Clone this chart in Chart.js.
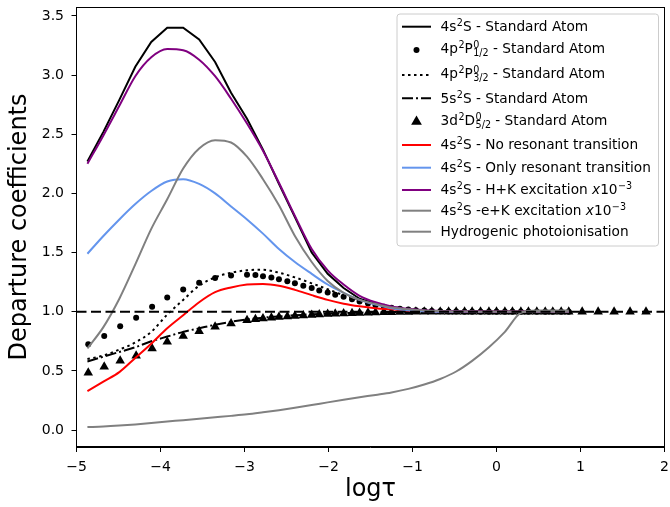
<!DOCTYPE html>
<html>
<head>
<meta charset="utf-8">
<script src="https://cdn.jsdelivr.net/npm/chart.js@4/dist/chart.umd.min.js"></script>
<style>
  html, body { margin: 0; padding: 0; background: #fff; }
  #wrap { width: 670px; height: 507px; }
</style>
</head>
<body>
<div id="wrap"><canvas id="departure" width="670" height="507"></canvas></div>
<script>
// log tau grid used by the curves
const lineTau = [-4.87, -4.68, -4.49, -4.30, -4.11, -3.92, -3.73, -3.54, -3.35, -3.16,
  -2.97, -2.78, -2.59, -2.40, -2.20, -2.01, -1.82, -1.63, -1.44, -1.25, -1.05,
  -0.86, -0.67, -0.48, -0.29, -0.09, 0.10, 0.29, 0.48, 0.67, 0.86];

// log tau grid of the marker series (model depth points)
const markerTau = [-4.86, -4.67, -4.48, -4.29, -4.10, -3.92, -3.73, -3.54, -3.35, -3.16,
  -2.97, -2.87, -2.78, -2.68, -2.59, -2.49, -2.40, -2.30, -2.20, -2.11, -2.01,
  -1.92, -1.82, -1.72, -1.63, -1.53, -1.44, -1.34, -1.25, -1.15, -1.05, -0.96,
  -0.86, -0.77, -0.67, -0.57, -0.48, -0.38, -0.29, -0.19, -0.09, 0.00, 0.10,
  0.19, 0.29, 0.38, 0.48, 0.58, 0.67, 0.77, 0.86];
const triTailTau = [1.02, 1.21, 1.40, 1.59, 1.78];

// Standard atom
const std4s = [2.27, 2.52, 2.79, 3.07, 3.28, 3.40, 3.40, 3.30, 3.11, 2.85,
  2.63, 2.37, 2.08, 1.80, 1.50, 1.32, 1.20, 1.11, 1.065, 1.035, 1.017,
  1.008, 1.004, 1.002, 1.001, 1.0, 1.0, 1.0, 1.0, 1.0, 1.0];
const std4p12 = [0.726, 0.794, 0.878, 0.949, 1.042, 1.121, 1.188, 1.244, 1.286, 1.306,
  1.312, 1.310, 1.300, 1.290, 1.275, 1.258, 1.241, 1.220, 1.200, 1.180, 1.163,
  1.143, 1.126, 1.106, 1.087, 1.070, 1.055, 1.043, 1.033, 1.025, 1.018, 1.013,
  1.010, 1.007, 1.005, 1.003, 1.002, 1.0, 1.0, 1.0, 1.0, 1.0, 1.0,
  1.0, 1.0, 1.0, 1.0, 1.0, 1.0, 1.0, 1.0];
const std4p32 = [0.60, 0.63, 0.68, 0.74, 0.83, 0.975, 1.10, 1.22, 1.29, 1.33,
  1.35, 1.355, 1.33, 1.29, 1.24, 1.19, 1.14, 1.10, 1.065, 1.04, 1.02,
  1.01, 1.005, 1.002, 1.0, 1.0, 1.0, 1.0, 1.0, 1.0, 1.0];
const std5s = [0.58, 0.62, 0.66, 0.70, 0.75, 0.79, 0.83, 0.86, 0.89, 0.915,
  0.935, 0.95, 0.96, 0.97, 0.978, 0.984, 0.988, 0.992, 0.995, 0.997, 0.998,
  0.999, 1.0, 1.0, 1.0, 1.0, 1.0, 1.0, 1.0, 1.0, 1.0];
const std3d52 = [0.484, 0.535, 0.585, 0.628, 0.690, 0.746, 0.794, 0.836, 0.873, 0.901,
  0.929, 0.936, 0.943, 0.949, 0.955, 0.960, 0.965, 0.969, 0.973, 0.977, 0.980,
  0.983, 0.986, 0.988, 0.990, 0.992, 0.994, 0.995, 0.996, 0.997, 0.998, 0.999,
  1.0, 1.0, 1.0, 1.0, 1.0, 1.0, 1.0, 1.0, 1.0, 1.0, 1.0,
  1.0, 1.0, 1.0, 1.0, 1.0, 1.0, 1.0, 1.0,
  1.0, 1.0, 1.0, 1.0, 1.0];

// 4s2S variants
const noResonant = [0.33, 0.41, 0.49, 0.61, 0.73, 0.86, 0.97, 1.08, 1.165, 1.205,
  1.23, 1.235, 1.22, 1.185, 1.14, 1.10, 1.068, 1.046, 1.03, 1.02, 1.01,
  1.005, 1.002, 1.0, 1.0, 1.0, 1.0, 1.0, 1.0, 1.0, 1.0];
const onlyResonant = [1.49, 1.64, 1.78, 1.91, 2.02, 2.10, 2.12, 2.08, 2.00, 1.89,
  1.78, 1.66, 1.53, 1.42, 1.32, 1.23, 1.16, 1.10, 1.06, 1.03, 1.012,
  1.004, 1.0, 1.0, 1.0, 1.0, 1.0, 1.0, 1.0, 1.0, 1.0];
const hkExcitation = [2.25, 2.49, 2.74, 2.99, 3.15, 3.22, 3.21, 3.13, 2.99, 2.80,
  2.59, 2.36, 2.09, 1.81, 1.53, 1.35, 1.23, 1.135, 1.08, 1.045, 1.025,
  1.013, 1.007, 1.004, 1.002, 1.0, 1.0, 1.0, 1.0, 1.0, 1.0];
const ekExcitation = [0.69, 0.87, 1.11, 1.40, 1.70, 1.95, 2.21, 2.38, 2.45, 2.43,
  2.31, 2.12, 1.90, 1.64, 1.42, 1.26, 1.16, 1.10, 1.065, 1.035, 1.02,
  1.01, 1.005, 1.002, 1.001, 1.0, 1.0, 1.0, 1.0, 1.0, 1.0];
const hydrogenic = [0.025, 0.03, 0.038, 0.048, 0.06, 0.072, 0.084, 0.096, 0.108, 0.12,
  0.133, 0.15, 0.168, 0.188, 0.211, 0.234, 0.256, 0.277, 0.297, 0.318, 0.348,
  0.385, 0.432, 0.495, 0.585, 0.70, 0.83, 0.99, 1.01, 1.01, 1.01];

const refLevel = 1;
const xTicks = [-5, -4, -3, -2, -1, 0, 1, 2];
const yTicks = [0, 0.5, 1, 1.5, 2, 2.5, 3, 3.5];

function pts(xs, ys) {
  return ys.map((y, i) => ({ x: xs[i], y: y }));
}

const FONT = '"DejaVu Sans"';
const DOTTED = [2.5, 3.5];
const DASHDOT = [11, 3, 2, 3];

function lineSet(label, xs, ys, color, dash, smooth) {
  return {
    label: label,
    data: pts(xs, ys),
    showLine: true,
    borderColor: color,
    backgroundColor: color,
    borderWidth: 2,
    borderDash: dash || [],
    pointRadius: 0,
    cubicInterpolationMode: smooth ? 'monotone' : 'default',
    tension: 0
  };
}

const datasets = [
  lineSet('4s2S - Standard Atom', lineTau, std4s, '#000000', [], false),
  {
    label: '4p2P0 1/2 - Standard Atom',
    data: pts(markerTau, std4p12),
    showLine: false,
    pointStyle: 'circle',
    pointRadius: 3,
    pointBorderWidth: 0,
    backgroundColor: '#000000',
    borderColor: '#000000'
  },
  lineSet('4p2P0 3/2 - Standard Atom', lineTau, std4p32, '#000000', DOTTED, true),
  lineSet('5s2S - Standard Atom', lineTau, std5s, '#000000', DASHDOT, true),
  {
    label: '3d2D0 5/2 - Standard Atom',
    data: pts(markerTau.concat(triTailTau), std3d52),
    showLine: false,
    pointStyle: 'triangle',
    pointRadius: 5.5,
    pointBorderWidth: 0,
    backgroundColor: '#000000',
    borderColor: '#000000'
  },
  lineSet('4s2S - No resonant transition', lineTau, noResonant, '#ff0000', [], true),
  lineSet('4s2S - Only resonant transition', lineTau, onlyResonant, '#6495ed', [], true),
  lineSet('4s2S - H+K excitation', lineTau, hkExcitation, '#800080', [], true),
  lineSet('4s2S -e+K excitation', lineTau, ekExcitation, '#808080', [], true),
  lineSet('Hydrogenic photoionisation', lineTau, hydrogenic, '#808080', [], true),
  lineSet('reference', [xTicks[0], xTicks[xTicks.length - 1]], [refLevel, refLevel], '#000000', [10, 4.5], false)
];
// later series on top, like the original plot
datasets.forEach((d, i) => { d.order = datasets.length - i; });

// legend rows: parts are [text] normal, [text,'sup'], [text,'it'], [sup,sub,'stack']
const legendRows = [
  { kind: 'line', color: '#000', dash: [], parts: [['4s'], ['2', 'sup'], ['S - Standard Atom']] },
  { kind: 'circle', parts: [['4p'], ['2', 'sup'], ['P'], ['0', '1/2', 'stack'], [' - Standard Atom']] },
  { kind: 'line', color: '#000', dash: DOTTED, parts: [['4p'], ['2', 'sup'], ['P'], ['0', '3/2', 'stack'], [' - Standard Atom']] },
  { kind: 'line', color: '#000', dash: DASHDOT, parts: [['5s'], ['2', 'sup'], ['S - Standard Atom']] },
  { kind: 'triangle', parts: [['3d'], ['2', 'sup'], ['D'], ['0', '5/2', 'stack'], [' - Standard Atom']] },
  { kind: 'line', color: '#ff0000', dash: [], parts: [['4s'], ['2', 'sup'], ['S - No resonant transition']] },
  { kind: 'line', color: '#6495ed', dash: [], parts: [['4s'], ['2', 'sup'], ['S - Only resonant transition']] },
  { kind: 'line', color: '#800080', dash: [], parts: [['4s'], ['2', 'sup'], ['S - H+K excitation '], ['x', 'it'], ['10'], ['\u22123', 'sup']] },
  { kind: 'line', color: '#808080', dash: [], parts: [['4s'], ['2', 'sup'], ['S -e+K excitation '], ['x', 'it'], ['10'], ['\u22123', 'sup']] },
  { kind: 'line', color: '#808080', dash: [], parts: [['Hydrogenic photoionisation']] }
];
const legendRowY = [26.7, 50, 75, 98.3, 121.7, 145, 167.7, 190, 210.7, 231.7];

function drawRich(ctx, x, base, parts) {
  const big = '13.7px ' + FONT;
  const small = '9.6px ' + FONT;
  let cx = x;
  parts.forEach(p => {
    if (p[2] === 'stack') {
      ctx.font = small;
      ctx.fillText(p[0], cx + 0.5, base - 5);
      ctx.fillText(p[1], cx + 0.5, base + 3);
      cx += Math.max(ctx.measureText(p[0]).width, ctx.measureText(p[1]).width) + 0.5;
    } else if (p[1] === 'sup') {
      ctx.font = small;
      ctx.fillText(p[0], cx + 0.5, base - 5);
      cx += ctx.measureText(p[0]).width + 0.5;
    } else if (p[1] === 'it') {
      ctx.font = 'oblique 13.7px ' + FONT;
      ctx.fillText(p[0], cx, base);
      cx += ctx.measureText(p[0]).width;
    } else {
      ctx.font = big;
      ctx.fillText(p[0], cx, base);
      cx += ctx.measureText(p[0]).width;
    }
  });
}

const framePlugin = {
  id: 'frameAndLegend',
  afterDatasetsDraw(chart) {
    const ctx = chart.ctx;
    const a = chart.chartArea;
    ctx.save();
    // full axes frame
    ctx.strokeStyle = '#000';
    ctx.lineWidth = 1;
    const l = Math.round(a.left) - 0.5, t = Math.round(a.top) + 0.5;
    const r = Math.round(a.right) - 0.5, b = Math.round(a.bottom) - 0.5;
    ctx.strokeRect(l, t, r - l, b - t);

    // legend box
    const bx = 397, by = 14, bw = 261.5, bh = 232, rad = 3;
    ctx.beginPath();
    ctx.moveTo(bx + rad, by);
    ctx.arcTo(bx + bw, by, bx + bw, by + bh, rad);
    ctx.arcTo(bx + bw, by + bh, bx, by + bh, rad);
    ctx.arcTo(bx, by + bh, bx, by, rad);
    ctx.arcTo(bx, by, bx + bw, by, rad);
    ctx.closePath();
    ctx.fillStyle = 'rgba(255,255,255,0.8)';
    ctx.fill();
    ctx.strokeStyle = '#cccccc';
    ctx.lineWidth = 1;
    ctx.stroke();

    legendRows.forEach((row, i) => {
      const y = legendRowY[i];
      const hx0 = 402, hx1 = 431, hc = 416.5;
      if (row.kind === 'line') {
        ctx.beginPath();
        ctx.setLineDash(row.dash);
        ctx.strokeStyle = row.color;
        ctx.lineWidth = 2;
        ctx.moveTo(hx0, y);
        ctx.lineTo(hx1, y);
        ctx.stroke();
        ctx.setLineDash([]);
      } else if (row.kind === 'circle') {
        ctx.beginPath();
        ctx.fillStyle = '#000';
        ctx.arc(hc, y, 3, 0, Math.PI * 2);
        ctx.fill();
      } else {
        const rr = 6.2;
        ctx.beginPath();
        ctx.fillStyle = '#000';
        ctx.moveTo(hc, y - rr);
        ctx.lineTo(hc + rr * 0.866, y + rr * 0.5);
        ctx.lineTo(hc - rr * 0.866, y + rr * 0.5);
        ctx.closePath();
        ctx.fill();
      }
      const hasSub = row.parts.some(p => p[2] === 'stack');
      ctx.fillStyle = '#000';
      ctx.textAlign = 'left';
      ctx.textBaseline = 'alphabetic';
      drawRich(ctx, 440.5, y + (hasSub ? 3.3 : 4.2), row.parts);
    });
    ctx.restore();
  }
};

const ctx = document.getElementById('departure').getContext('2d');
new Chart(ctx, {
  type: 'scatter',
  data: { datasets: datasets },
  options: {
    responsive: false,
    animation: false,
    devicePixelRatio: 1,
    layout: { padding: { left: 0, right: 4.5, top: 7, bottom: 0 } },
    plugins: {
      legend: { display: false },
      tooltip: { enabled: false }
    },
    scales: {
      x: {
        type: 'linear',
        min: -5,
        max: 2,
        afterBuildTicks: s => { s.ticks = xTicks.map(v => ({ value: v })); },
        afterFit: s => { s.height = 60; s.paddingLeft = 0; s.paddingRight = 0; },
        ticks: {
          color: '#000',
          font: { family: 'DejaVu Sans', size: 14 },
          padding: 6.5,
          callback: v => (v < 0 ? '\u2212' + Math.abs(v) : String(v))
        },
        grid: { drawOnChartArea: false, drawTicks: true, tickLength: 5, tickColor: '#000', tickWidth: 1 },
        border: { color: '#000', width: 1 },
        title: {
          display: true,
          text: 'log\u03c4',
          color: '#000',
          font: { family: 'DejaVu Sans', size: 24 },
          padding: { top: 0, bottom: 3 }
        }
      },
      y: {
        type: 'linear',
        min: -0.143,
        max: 3.575,
        afterBuildTicks: s => { s.ticks = yTicks.map(v => ({ value: v })); },
        afterFit: s => { s.width = 76.5; s.paddingTop = 0; s.paddingBottom = 0; },
        ticks: {
          color: '#000',
          font: { family: 'DejaVu Sans', size: 14 },
          padding: 7.5,
          callback: v => v.toFixed(1)
        },
        grid: { drawOnChartArea: false, drawTicks: true, tickLength: 5, tickColor: '#000', tickWidth: 1 },
        border: { color: '#000', width: 1 },
        title: {
          display: true,
          text: 'Departure coefficients',
          color: '#000',
          font: { family: 'DejaVu Sans', size: 24 },
          padding: { top: 5, bottom: 0 }
        }
      }
    }
  },
  plugins: [framePlugin]
});
</script>
</body>
</html>
